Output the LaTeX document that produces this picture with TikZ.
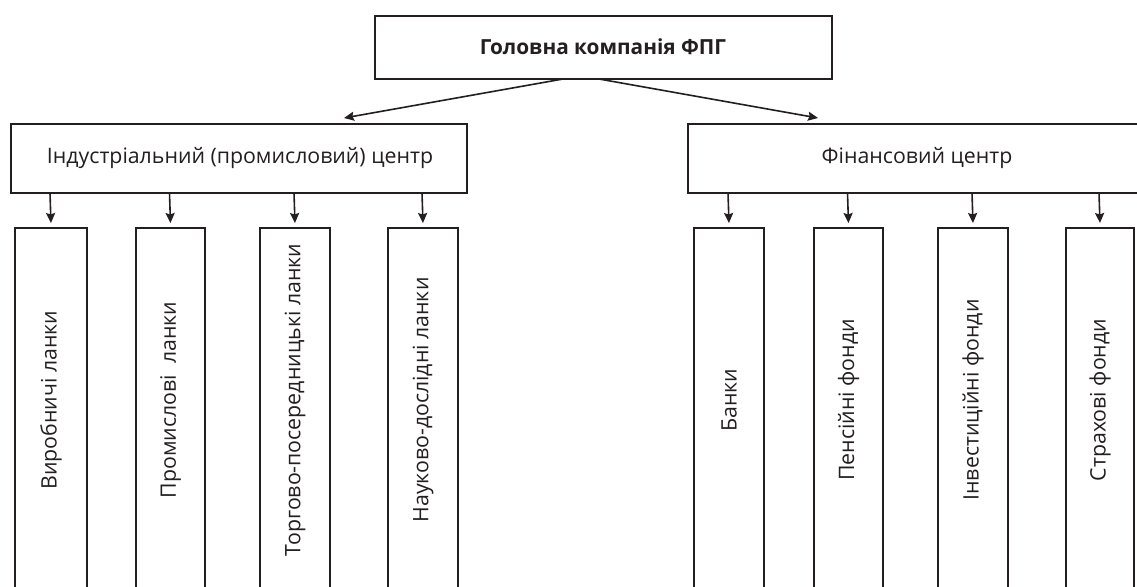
\documentclass[tikz,border=0pt]{standalone}
\usepackage{fontspec}
\setmainfont{Open Sans}
\usetikzlibrary{arrows.meta}
\definecolor{ink}{HTML}{231F20}
\tikzset{
  box/.style={draw=ink, line width=2.2pt, rectangle, inner sep=0pt, anchor=north west},
  lbl/.style={font=\fontsize{21.3}{24}\selectfont, text=ink},
  vlbl/.style={lbl, rotate=90},
  conn/.style={line width=1.6pt, draw=ink, -{Stealth[length=10pt,width=9pt,inset=1.5pt]}},
}
\begin{document}
\begin{tikzpicture}[x=1pt,y=-1pt]
\useasboundingbox (0,0) rectangle (1137,586);
\clip (0,0) rectangle (1137,586);
\fill[white] (0,0) rectangle (1137,586);
% top
\node[box, minimum width=457pt, minimum height=63pt] (top) at (374,15) {};
\node[lbl, font=\fontsize{20.8}{24}\selectfont\bfseries] (toptxt) at (603,46.5) {Головна компанія ФПГ};
% centers
\node[box, minimum width=456pt, minimum height=69pt] (ind) at (10,123) {};
\node[lbl] (indtxt) at (240,158) {Індустріальний (промисловий) центр};
\node[box, minimum width=470pt, minimum height=69pt] (fin) at (687,123) {};
\node[lbl] (fintxt) at (917,158) {Фінансовий центр};
\coordinate (ta) at (563,79);
\coordinate (tb) at (599,79);
\coordinate (ea) at (344,118);
\coordinate (eb) at (818,118);
\draw[conn] (ta) -- (ea);
\draw[conn] (tb) -- (eb);
% children left
\foreach \n/\xa/\xb/\t in {a1/14/86/{Виробничі ланки}, a2/135/204/{Промислові~ ланки}, a3/259/329/{Торгово-посередницькі ланки}, a4/387/457/{Науково-дослідні ланки}}{
  \pgfmathsetmacro{\w}{\xb-\xa}
  \node[box, minimum width=\w pt, minimum height=400pt] (\n) at (\xa,227) {};
  \node[vlbl] (\n t) at ({(\xa+\xb)/2+1},400) {\t};
  \coordinate (\n s) at ({(\xa+\xb)/2},193);
  \draw[conn, shorten >=4pt] (\n s) -- (\n.north);
}
\foreach \n/\xa/\xb/\t in {b1/693/763/{Банки}, b2/813/882/{Пенсійні фонди}, b3/937/1007/{Інвестиційні фонди}, b4/1065/1133/{Страхові фонди}}{
  \pgfmathsetmacro{\w}{\xb-\xa}
  \node[box, minimum width=\w pt, minimum height=400pt] (\n) at (\xa,227) {};
  \node[vlbl] (\n t) at ({(\xa+\xb)/2+1},400) {\t};
  \coordinate (\n s) at ({(\xa+\xb)/2},193);
  \draw[conn, shorten >=4pt] (\n s) -- (\n.north);
}
\end{tikzpicture}
\end{document}
